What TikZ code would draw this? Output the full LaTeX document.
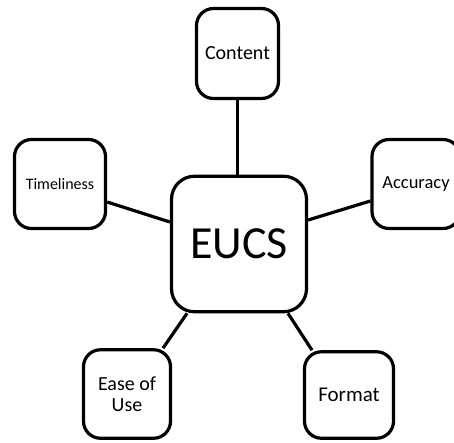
\documentclass[tikz,border=0pt]{standalone}
\usepackage{fontspec}
\setmainfont{Carlito}
\begin{document}
\begin{tikzpicture}[x=1pt,y=-1pt,
  box/.style={draw=black,line width=3.2pt,rounded corners=17pt,fill=white,align=center,inner sep=0pt},
  conn/.style={draw=black,line width=3.2pt}]
\useasboundingbox (0,0) rectangle (454,442);
\node[box,minimum width=82pt,minimum height=90pt,font=\fontsize{20}{22}\selectfont] (content) at (237.5,53.5) {Content};
\node[box,minimum width=91pt,minimum height=89pt,font=\fontsize{16}{18}\selectfont] (tim) at (60,184) {Timeliness};
\node[box,minimum width=88pt,minimum height=89pt,font=\fontsize{18.5}{21}\selectfont] (acc) at (416,184) {Accuracy};
\node[box,rounded corners=23pt,minimum width=135pt,minimum height=135.5pt,font=\fontsize{46}{50}\selectfont] (eucs) at (239,244) {EUCS};
\node[box,minimum width=87pt,minimum height=88.5pt,font=\fontsize{20}{21}\selectfont] (ease) at (127,394) {Ease of\\Use};
\node[box,minimum width=89pt,minimum height=86.5pt,font=\fontsize{21}{22}\selectfont] (fmt) at (349,395) {Format};
\draw[conn] (content.south) -- (content.south |- eucs.north);
\draw[conn] ([yshift=-18pt]tim.east) -- ([yshift=22pt]eucs.west);
\draw[conn] ([yshift=24pt]eucs.east) -- ([yshift=-17pt]acc.west);
\draw[conn] ([xshift=-52pt]eucs.south) -- ([xshift=36pt]ease.north);
\draw[conn] ([xshift=49pt]eucs.south) -- ([xshift=-37pt]fmt.north);
\end{tikzpicture}
\end{document}
